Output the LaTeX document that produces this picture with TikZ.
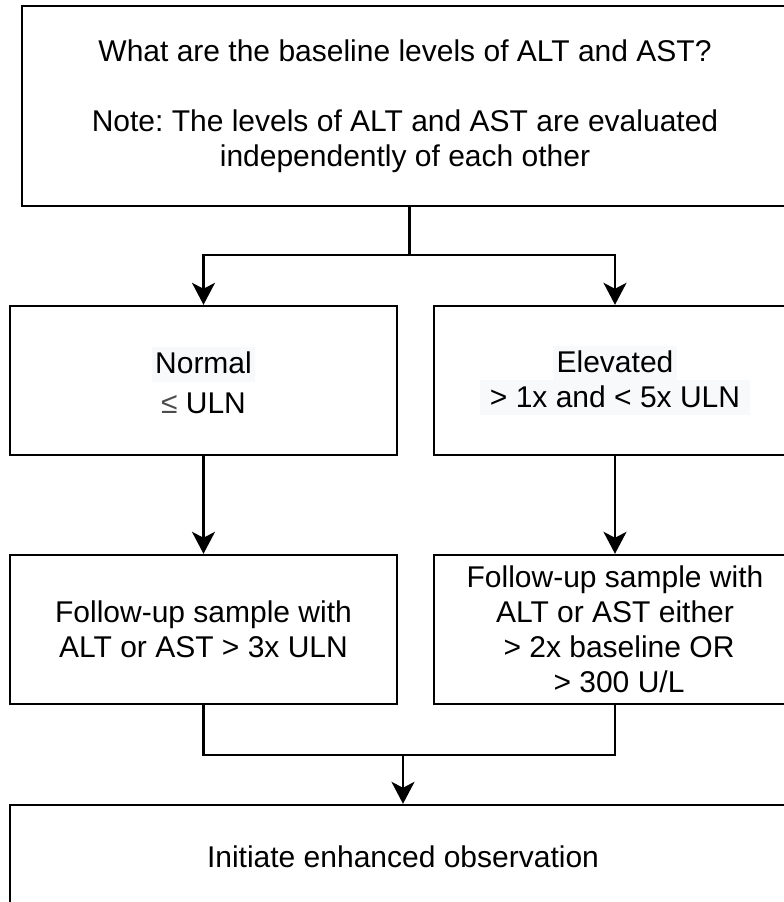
\documentclass[tikz,border=0pt]{standalone}
\usepackage{fontspec}
\setmainfont{Liberation Sans}
\usetikzlibrary{arrows.meta}
\definecolor{hl}{HTML}{F8F9FA}
\frenchspacing
\newcommand\hlbox[2][3pt]{{\setlength{\fboxsep}{0pt}\colorbox{hl}{\hspace{#1}\rule[-8pt]{0pt}{35pt}#2\hspace{#1}}}}
\begin{document}
\begin{tikzpicture}[x=1pt,y=-1pt,
  box/.style={draw, line width=2.4pt, inner sep=0pt, align=center,
    font=\fontsize{30}{35}\selectfont},
  conn/.style={line width=2.4pt, line join=miter},
  arr/.style={conn, -{Stealth[length=22pt, width=23pt, inset=6pt]}}]
\useasboundingbox (0,0) rectangle (784,902);
\clip (0,0) rectangle (784,902);
\node[box, minimum width=766pt, minimum height=200pt] (top) at (405,106)
  {What are the baseline levels of ALT and AST?\\[35pt]
   Note: The levels of ALT and AST are evaluated\\
   independently of each other};
\node[box, minimum width=387pt, minimum height=149pt,
  font=\fontsize{30}{40}\selectfont] (norm) at (203.5,380.5)
  {\hlbox{Normal}\\{\color{black!70}≤} ULN};
\node[box, minimum width=362pt, minimum height=149pt] (elev) at (615,380.5)
  {\hlbox[3.5pt]{Elevated}\\[-0.5pt]\hlbox[10pt]{> 1x and < 5x ULN}};
\node[box, minimum width=387pt, minimum height=149pt] (fl) at (203.5,629.5)
  {Follow-up sample with\\ALT or AST > 3x ULN};
\node[box, minimum width=362pt, minimum height=149pt] (fr) at (615,629.5)
  {Follow-up sample with\\ALT or AST either\\\hspace*{8pt}> 2x baseline OR\\\hspace*{8pt}> 300 U/L};
\node[box, minimum width=786pt, minimum height=104pt] (bot) at (403,857)
  {Initiate enhanced observation};
\coordinate (s) at (409.5,255);
\coordinate (m) at (403,755);
\draw[conn] (s |- top.south) -- (s);
\draw[arr] (s) -| (norm.north);
\draw[arr] (s) -| (elev.north);
\draw[arr] (norm) -- (fl);
\draw[arr] (elev) -- (fr);
\draw[conn] (fl.south) |- (m);
\draw[conn] (fr.south) |- (m);
\draw[arr] (m) -- (m |- bot.north);
\end{tikzpicture}
\end{document}
